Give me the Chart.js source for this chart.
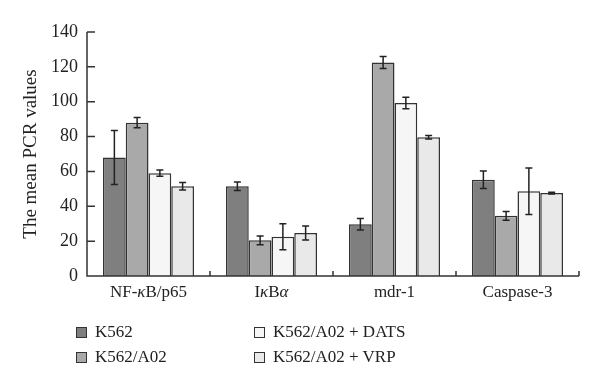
<!DOCTYPE html>
<html><head><meta charset="utf-8">
<script src="https://cdn.jsdelivr.net/npm/chart.js@4"></script>
<style>
html,body{margin:0;padding:0;background:#fff;}
#wrap{position:relative;width:600px;height:388px;}
canvas{position:absolute;left:0;top:0;}
.leg{position:absolute;font-family:"Liberation Serif",serif;font-size:17px;color:#222;display:flex;align-items:center;white-space:nowrap;}
.leg span.b{display:inline-block;width:9px;height:9px;border:1.5px solid #333;margin-right:8px;}
</style></head>
<body><div id="wrap"><canvas id="c" width="600" height="388"></canvas><div id="legend"></div></div>
<script>
const categories = ['NF-κB/p65','IκBα','mdr-1','Caspase-3'];
const seriesNames = ['K562','K562/A02','K562/A02 + DATS','K562/A02 + VRP'];
const k562 = [68, 51.5, 29.7, 55.2];
const k562Err = [15.5, 2.5, 3.3, 5];
const a02 = [88, 20.5, 122.5, 34.5];
const a02Err = [3, 2.5, 3.5, 2.5];
const dats = [59, 22.5, 99.2, 48.6];
const datsErr = [1.8, 7.5, 3.3, 13.3];
const vrp = [51.5, 24.7, 79.6, 47.6];
const vrpErr = [2.1, 4, 1, 0.5];
const yTicks = [0,20,40,60,80,100,120,140];

const colors = ['#7f7f7f','#a9a9a9','#f6f6f6','#e9e9e9'];
const values = [k562,a02,dats,vrp];
const errs = [k562Err,a02Err,datsErr,vrpErr];
const FONT = '"Liberation Serif", serif';

const errorBars = {
  id:'errorBars',
  afterDatasetsDraw(chart){
    const ctx = chart.ctx, y = chart.scales.y;
    ctx.save(); ctx.strokeStyle='#222'; ctx.lineWidth=1.5;
    chart.data.datasets.forEach((ds,i)=>{
      const meta = chart.getDatasetMeta(i);
      meta.data.forEach((bar,j)=>{
        const v = ds.data[j], e = ds.err[j];
        const x = bar.x, t = y.getPixelForValue(v+e), b = y.getPixelForValue(v-e);
        ctx.beginPath();
        ctx.moveTo(x,t); ctx.lineTo(x,b);
        ctx.moveTo(x-3.5,t); ctx.lineTo(x+3.5,t);
        ctx.moveTo(x-3.5,b); ctx.lineTo(x+3.5,b);
        ctx.stroke();
      });
    });
    ctx.restore();
  }
};
const axesPlugin = {
  id:'axesPlugin',
  afterDraw(chart){
    const ctx=chart.ctx, a=chart.chartArea, x=chart.scales.x, y=chart.scales.y;
    ctx.save(); ctx.strokeStyle='#333'; ctx.lineWidth=1.5;
    ctx.beginPath();
    ctx.moveTo(a.left,a.top); ctx.lineTo(a.left,a.bottom); ctx.lineTo(a.right,a.bottom);
    yTicks.forEach(t=>{const p=y.getPixelForValue(t); ctx.moveTo(a.left,p); ctx.lineTo(a.left+8,p);});
    for(let i=1;i<=categories.length;i++){
      const p = i<categories.length ? (x.getPixelForValue(i-1)+x.getPixelForValue(i))/2 : a.right;
      ctx.moveTo(p,a.bottom); ctx.lineTo(p,a.bottom-5);
    }
    ctx.stroke();
    // category labels with italic Greek letters
    ctx.fillStyle='#222'; ctx.textBaseline='middle';
    const norm='17px '+FONT, ital='italic 17px '+FONT;
    categories.forEach((lab,i)=>{
      const segs=[]; for(const ch of lab){const it=/[α-ω]/.test(ch); if(segs.length&&segs[segs.length-1].it===it) segs[segs.length-1].t+=ch; else segs.push({t:ch,it});}
      let w=0; segs.forEach(s=>{ctx.font=s.it?ital:norm; s.w=ctx.measureText(s.t).width; w+=s.w;});
      let cx=x.getPixelForValue(i)-w/2; ctx.textAlign='left';
      segs.forEach(s=>{ctx.font=s.it?ital:norm; ctx.fillText(s.t,cx,a.bottom+17); cx+=s.w;});
    });
    ctx.restore();
  }
};

new Chart(document.getElementById('c'),{
  type:'bar',
  data:{labels:categories,datasets:values.map((v,i)=>({label:seriesNames[i],data:v,err:errs[i],backgroundColor:colors[i],borderColor:'#333',borderWidth:1.5,barPercentage:1,categoryPercentage:0.74}))},
  options:{
    responsive:false,animation:false,
    layout:{padding:{left:20,right:21,top:32,bottom:82}},
    plugins:{legend:{display:false},tooltip:{enabled:false}},
    scales:{
      x:{grid:{display:false,drawTicks:false},border:{display:false},ticks:{display:false},afterFit(s){s.height=30;}},
      y:{min:0,max:140,afterBuildTicks(s){s.ticks=yTicks.map(v=>({value:v}));},grid:{display:false,drawTicks:false},border:{display:false},
         ticks:{color:'#222',font:{family:FONT,size:18},padding:9},
         title:{display:true,text:'The mean PCR values',color:'#222',font:{family:FONT,size:19},padding:0},
         afterFit(s){s.width=67;}}
    }
  },
  plugins:[errorBars,axesPlugin]
});

const legend=document.getElementById('legend');
const pos=[[76,322],[76,347],[254,322],[254,347]];
seriesNames.forEach((n,i)=>{
  const d=document.createElement('div'); d.className='leg';
  d.style.left=pos[i][0]+'px'; d.style.top=pos[i][1]+'px';
  d.innerHTML='<span class="b" style="background:'+colors[i]+'"></span>'+n;
  legend.appendChild(d);
});
</script></body></html>
